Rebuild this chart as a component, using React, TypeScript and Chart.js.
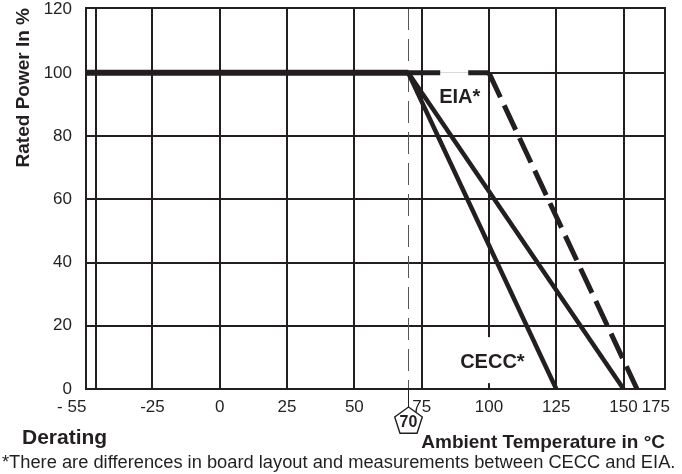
import React, { useEffect, useRef } from 'react';
import { Chart, registerables } from 'chart.js';

Chart.register(...registerables);

const FONT = '"Liberation Sans", Arial, Helvetica, sans-serif';
const INK = '#231f20';
const NONE = 'rgba(0,0,0,0)';

// ---- x axis (Ambient temperature, °C) ----
const xMin = -49.7;
const xMax = 165.4;
const xGridTemps = [-46, -25, 0, 25, 50, 75, 100, 125, 150];
const xTickLabels = ['- 55', '-25', '0', '25', '50', '75', '100', '125', '150', '175'];
// where each label sits (the 175 label is squeezed against the right frame, as in the source)
const xTickLabelTemps = [-55, -25, 0, 25, 50, 75, 100, 125, 150, 162];

// ---- y axis (Rated power, %) ----
const yMin = 0;
const yMax = 120.5;
const yTickValues = [0, 20, 40, 60, 80, 100, 120];
const yGridValues = [20, 40, 60, 80, 100];

// ---- series ----
const flatTemps = [-55, 70];
const flatPower = [100, 100];
const cecc125Temps = [70, 125];
const cecc125Power = [100, 0];
const cecc150Temps = [70, 150];
const cecc150Power = [100, 0];
const eiaTemps = [70, 100, 155];
const eiaPower = [100, 100, 0];

// ---- annotations ----
const kneeTemp = 70;
const seriesLabels = ['EIA*', 'CECC*'];
const seriesLabelTemps = [81.5, 89.3];
const seriesLabelPowers = [90.4, 6.6];

const TITLE_NOTE = 'Derating';
const FOOTNOTE = '*There are differences in board layout and measurements between CECC and EIA.';

const toXY = (xs: number[], ys: number[]) => xs.map((x, i) => ({ x, y: ys[i] }));
const xAllTicks = Array.from(new Set([...xGridTemps, ...xTickLabelTemps])).sort((a, b) => a - b);

const decorations = {
  id: 'decorations',
  beforeDatasetsDraw(chart: any) {
    const { ctx, chartArea: a, scales } = chart;
    const x = scales.x;
    const y = scales.y;
    ctx.save();
    // thin dashed guide at the knee temperature
    const kx = Math.round(x.getPixelForValue(kneeTemp)) + 0.5;
    ctx.strokeStyle = '#555';
    ctx.lineWidth = 1;
    ctx.setLineDash([22, 9]);
    ctx.beginPath();
    ctx.moveTo(kx, a.top);
    ctx.lineTo(kx, a.bottom);
    ctx.stroke();
    ctx.setLineDash([]);
    // series labels with white boxes
    ctx.font = `bold 20px ${FONT}`;
    ctx.textAlign = 'left';
    ctx.textBaseline = 'alphabetic';
    seriesLabels.forEach((t, i) => {
      const lx = x.getPixelForValue(seriesLabelTemps[i]);
      const ly = y.getPixelForValue(seriesLabelPowers[i]);
      const w = ctx.measureText(t).width;
      ctx.fillStyle = '#fff';
      ctx.fillRect(lx - 5, ly - 31, w + 10, 46);
      ctx.fillStyle = INK;
      ctx.fillText(t, lx, ly);
    });
    // frame
    ctx.strokeStyle = INK;
    ctx.lineWidth = 2;
    ctx.strokeRect(a.left, a.top, a.right - a.left, a.bottom - a.top);
    ctx.restore();
  },
  afterDraw(chart: any) {
    const { ctx, chartArea: a, scales } = chart;
    const x = scales.x;
    const kx = Math.round(x.getPixelForValue(kneeTemp)) + 0.5;
    const r = 14.5;
    const cy = a.bottom + 18 + r;
    ctx.save();
    ctx.strokeStyle = INK;
    ctx.lineWidth = 1;
    ctx.beginPath();
    ctx.moveTo(kx, a.bottom);
    ctx.lineTo(kx, cy - r);
    ctx.stroke();
    ctx.lineWidth = 1.4;
    ctx.beginPath();
    for (let i = 0; i < 5; i++) {
      const ang = -Math.PI / 2 + (i * 2 * Math.PI) / 5;
      const px = kx + r * Math.cos(ang);
      const py = cy + r * Math.sin(ang);
      if (i === 0) ctx.moveTo(px, py);
      else ctx.lineTo(px, py);
    }
    ctx.closePath();
    ctx.stroke();
    ctx.fillStyle = INK;
    ctx.font = `bold 16px ${FONT}`;
    ctx.textAlign = 'center';
    ctx.textBaseline = 'middle';
    ctx.fillText(String(kneeTemp), kx, cy + 1.5);
    // footer texts
    ctx.textAlign = 'left';
    ctx.textBaseline = 'alphabetic';
    ctx.font = `bold 21px ${FONT}`;
    ctx.fillText(TITLE_NOTE, 22, 444);
    ctx.font = `18.3px ${FONT}`;
    ctx.fillText(FOOTNOTE, 2, 468);
    ctx.restore();
  },
};

export default function App() {
  const ref = useRef<HTMLCanvasElement | null>(null);

  useEffect(() => {
    if (!ref.current) return;
    Chart.defaults.font.family = FONT;
    Chart.defaults.color = INK;
    const line = { borderColor: INK, pointRadius: 0, pointHoverRadius: 0, clip: 0, fill: false, tension: 0 };
    const chart = new Chart(ref.current, {
      type: 'line',
      data: {
        datasets: [
          { ...line, label: 'Rated power', data: toXY(flatTemps, flatPower), borderWidth: 6 },
          { ...line, label: 'CECC 125 °C', data: toXY(cecc125Temps, cecc125Power), borderWidth: 4.5 },
          { ...line, label: 'CECC 150 °C', data: toXY(cecc150Temps, cecc150Power), borderWidth: 4.5 },
          {
            ...line,
            label: 'EIA',
            data: toXY(eiaTemps, eiaPower),
            borderWidth: 5,
            segment: { borderDash: (c: any) => (c.p0DataIndex === 0 ? [32, 28] : [27, 9]) },
          },
        ] as any,
      },
      options: {
        animation: false,
        responsive: false,
        devicePixelRatio: 1,
        events: [],
        layout: { padding: { left: 0, top: 8, right: 17, bottom: 0 } },
        plugins: { legend: { display: false }, tooltip: { enabled: false } },
        scales: {
          x: {
            type: 'linear',
            min: xMin,
            max: xMax,
            afterBuildTicks: (s: any) => {
              s.ticks = xAllTicks.map((v) => ({ value: v }));
            },
            afterFit: (s: any) => {
              s.height = 85;
              s.paddingLeft = 0;
              s.paddingRight = 0;
            },
            grid: {
              color: (c: any) => (c.tick && xGridTemps.includes(c.tick.value) ? INK : NONE),
              lineWidth: 2,
              drawTicks: false,
            },
            border: { display: false },
            ticks: {
              padding: 8,
              autoSkip: false,
              maxRotation: 0,
              minRotation: 0,
              color: INK,
              font: { size: 17 },
              callback: (v: any) => {
                const i = xTickLabelTemps.indexOf(Number(v));
                return i >= 0 ? xTickLabels[i] : '';
              },
            },
            title: {
              display: true,
              text: 'Ambient Temperature in °C',
              align: 'end',
              color: INK,
              font: { size: 19, weight: 'bold' },
              padding: { top: 0, bottom: 20 },
            },
          },
          y: {
            type: 'linear',
            min: yMin,
            max: yMax,
            afterBuildTicks: (s: any) => {
              s.ticks = yTickValues.map((v) => ({ value: v }));
            },
            afterFit: (s: any) => {
              s.width = 86;
              s.paddingTop = 0;
              s.paddingBottom = 0;
            },
            grid: {
              color: (c: any) => (c.tick && yGridValues.includes(c.tick.value) ? INK : NONE),
              lineWidth: 2,
              drawTicks: false,
            },
            border: { display: false },
            ticks: {
              padding: 14,
              color: INK,
              font: { size: 17 },
              callback: (v: any) => String(v),
            },
            title: {
              display: true,
              text: 'Rated Power In %',
              align: 'end',
              color: INK,
              font: { size: 19, weight: 'bold' },
              padding: { top: 12, bottom: 0 },
            },
          },
        },
      } as any,
      plugins: [decorations],
    });
    return () => chart.destroy();
  }, []);

  return (
    <div style={{ position: 'absolute', left: 0, top: 0, width: 682, height: 474, background: '#fff' }}>
      <canvas ref={ref} width={682} height={474} style={{ display: 'block', width: 682, height: 474 }} />
    </div>
  );
}
